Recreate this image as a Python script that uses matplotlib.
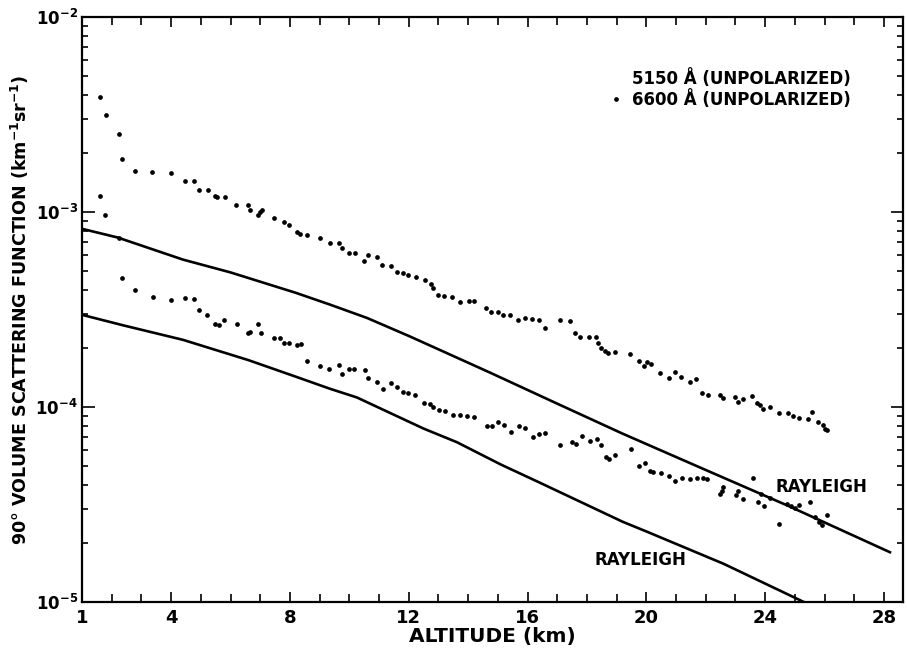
import matplotlib
matplotlib.use("Agg")
import matplotlib.pyplot as plt
from matplotlib.lines import Line2D
from matplotlib.ticker import LogLocator, NullFormatter

plt.rcParams["font.family"] = ["DejaVu Sans"]
plt.rcParams["font.weight"] = "bold"

# 5150 A measurements (upper dots)
alt_5150 = [1.62, 1.82, 2.25, 2.36, 2.78, 3.36, 3.99, 4.48, 4.78, 4.94, 5.24, 5.48, 5.56,
            5.80, 6.20, 6.60, 6.67, 6.92, 7.00, 7.07, 7.46, 7.79, 7.97, 8.24, 8.35, 8.57,
            9.02, 9.34, 9.64, 9.76, 10.00, 10.19, 10.51, 10.64, 10.94, 11.11, 11.39, 11.61,
            11.82, 11.99, 12.24, 12.54, 12.74, 12.83, 13.00, 13.20, 13.47, 13.73, 14.02,
            14.20, 14.60, 14.78, 15.00, 15.19, 15.41, 15.68, 15.91, 16.14, 16.39, 16.58,
            17.09, 17.43, 17.61, 17.77, 18.06, 18.30, 18.37, 18.46, 18.61, 18.71, 18.96,
            19.46, 19.75, 19.92, 20.03, 20.17, 20.47, 20.76, 20.96, 21.18, 21.46, 21.66,
            21.87, 22.09, 22.48, 22.57, 22.99, 23.08, 23.25, 23.55, 23.74, 23.83, 23.92,
            24.16, 24.46, 24.76, 24.95, 25.14, 25.45, 25.58, 25.77, 25.94, 26.02, 26.09]
val_5150 = [3.9e-3, 3.14e-3, 2.5e-3, 1.88e-3, 1.63e-3, 1.60e-3, 1.58e-3, 1.45e-3, 1.45e-3,
            1.30e-3, 1.30e-3, 1.21e-3, 1.20e-3, 1.20e-3, 1.09e-3, 1.09e-3, 1.02e-3, 9.7e-4,
            1.0e-3, 1.02e-3, 9.3e-4, 8.9e-4, 8.6e-4, 7.9e-4, 7.7e-4, 7.66e-4, 7.36e-4,
            6.9e-4, 6.9e-4, 6.56e-4, 6.15e-4, 6.15e-4, 5.64e-4, 6.05e-4, 5.85e-4, 5.33e-4,
            5.27e-4, 4.93e-4, 4.85e-4, 4.77e-4, 4.62e-4, 4.5e-4, 4.29e-4, 4.07e-4, 3.76e-4,
            3.73e-4, 3.67e-4, 3.46e-4, 3.5e-4, 3.49e-4, 3.21e-4, 3.08e-4, 3.08e-4, 2.96e-4,
            2.96e-4, 2.79e-4, 2.85e-4, 2.84e-4, 2.79e-4, 2.53e-4, 2.79e-4, 2.77e-4, 2.39e-4,
            2.28e-4, 2.28e-4, 2.29e-4, 2.12e-4, 2.01e-4, 1.94e-4, 1.90e-4, 1.91e-4, 1.86e-4,
            1.72e-4, 1.63e-4, 1.70e-4, 1.67e-4, 1.49e-4, 1.41e-4, 1.52e-4, 1.43e-4, 1.34e-4,
            1.39e-4, 1.18e-4, 1.15e-4, 1.15e-4, 1.11e-4, 1.12e-4, 1.06e-4, 1.10e-4, 1.14e-4,
            1.05e-4, 1.02e-4, 9.8e-5, 1.0e-4, 9.3e-5, 9.3e-5, 9.0e-5, 8.8e-5, 8.73e-5,
            9.4e-5, 8.4e-5, 8.1e-5, 7.7e-5, 7.66e-5]

# 6600 A measurements (lower dots)
alt_6600 = [1.60, 1.78, 2.24, 2.36, 2.79, 3.39, 3.99, 4.46, 4.77, 4.95, 5.22, 5.47, 5.60,
            5.77, 6.21, 6.58, 6.65, 6.93, 7.04, 7.45, 7.66, 7.79, 7.97, 8.24, 8.37, 8.59,
            9.02, 9.32, 9.64, 9.76, 10.00, 10.16, 10.52, 10.64, 10.92, 11.13, 11.40, 11.60,
            11.82, 11.99, 12.22, 12.52, 12.72, 12.83, 13.01, 13.22, 13.50, 13.73, 13.95,
            14.21, 14.63, 14.80, 15.02, 15.22, 15.43, 15.71, 15.91, 16.18, 16.40, 16.59,
            17.09, 17.51, 17.63, 17.84, 18.10, 18.35, 18.46, 18.64, 18.74, 18.96, 19.49,
            19.76, 19.95, 20.12, 20.22, 20.49, 20.76, 20.97, 21.19, 21.46, 21.72, 21.90,
            22.05, 22.49, 22.54, 22.59, 23.02, 23.10, 23.25, 23.58, 23.77, 23.86, 23.96,
            24.16, 24.46, 24.74, 24.87, 25.01, 25.14, 25.51, 25.68, 25.82, 25.90, 26.07]
val_6600 = [1.21e-3, 9.7e-4, 7.36e-4, 4.57e-4, 3.99e-4, 3.66e-4, 3.54e-4, 3.61e-4, 3.56e-4,
            3.16e-4, 2.96e-4, 2.65e-4, 2.63e-4, 2.80e-4, 2.67e-4, 2.41e-4, 2.42e-4, 2.66e-4,
            2.41e-4, 2.26e-4, 2.27e-4, 2.12e-4, 2.12e-4, 2.09e-4, 2.1e-4, 1.73e-4, 1.63e-4,
            1.56e-4, 1.65e-4, 1.48e-4, 1.57e-4, 1.56e-4, 1.54e-4, 1.41e-4, 1.35e-4, 1.24e-4,
            1.33e-4, 1.26e-4, 1.19e-4, 1.18e-4, 1.15e-4, 1.05e-4, 1.04e-4, 9.97e-5, 9.66e-5,
            9.58e-5, 9.12e-5, 9.12e-5, 9.04e-5, 8.87e-5, 8.0e-5, 8.0e-5, 8.34e-5, 8.05e-5,
            7.46e-5, 8.0e-5, 7.84e-5, 7.0e-5, 7.23e-5, 7.38e-5, 6.37e-5, 6.58e-5, 6.43e-5,
            7.13e-5, 6.7e-5, 6.89e-5, 6.35e-5, 5.52e-5, 5.43e-5, 5.65e-5, 6.12e-5, 4.98e-5,
            5.18e-5, 4.68e-5, 4.65e-5, 4.61e-5, 4.43e-5, 4.19e-5, 4.3e-5, 4.29e-5, 4.3e-5,
            4.34e-5, 4.29e-5, 3.58e-5, 3.72e-5, 3.9e-5, 3.52e-5, 3.7e-5, 3.36e-5, 4.34e-5,
            3.26e-5, 3.58e-5, 3.1e-5, 3.42e-5, 2.52e-5, 3.18e-5, 3.1e-5, 3.05e-5, 3.13e-5,
            3.24e-5, 2.74e-5, 2.58e-5, 2.47e-5, 2.79e-5]

# Rayleigh curves
ray_alt_5150 = [1.0, 2.2, 4.4, 6.0, 8.2, 9.35, 10.6, 12.04, 14.74, 17.0, 19.2, 21.8, 24.8,
                28.2]
ray_val_5150 = [8.2e-4, 7.4e-4, 5.7e-4, 4.9e-4, 3.85e-4, 3.35e-4, 2.86e-4, 2.30e-4, 1.50e-4,
                1.04e-4, 7.3e-5, 4.9e-5, 3.1e-5, 1.8e-5]
ray_alt_6600 = [1.0, 2.4, 4.4, 6.6, 8.2, 9.35, 10.25, 12.5, 13.62, 15.1, 16.4, 19.2, 20.0,
                22.6, 25.3]
ray_val_6600 = [2.97e-4, 2.62e-4, 2.21e-4, 1.74e-4, 1.43e-4, 1.24e-4, 1.12e-4, 7.75e-5,
                6.6e-5, 5.07e-5, 4.1e-5, 2.58e-5, 2.3e-5, 1.57e-5, 1.0e-5]

x_ticks = [1, 4, 8, 12, 16, 20, 24, 28]
y_ticks = [1e-5, 1e-4, 1e-3, 1e-2]
y_tick_labels = [r"$\mathbf{10^{-5}}$", r"$\mathbf{10^{-4}}$",
                 r"$\mathbf{10^{-3}}$", r"$\mathbf{10^{-2}}$"]

fig = plt.figure(figsize=(9.07, 6.59), dpi=100)
ax = fig.add_axes([0.0904, 0.0865, 0.9052, 0.8877])
ax.set_yscale("log")

ax.plot(ray_alt_5150, ray_val_5150, color="black", lw=1.9)
ax.plot(ray_alt_6600, ray_val_6600, color="black", lw=1.9)
ax.plot(alt_5150, val_5150, "o", color="black", ms=3.4, mew=0)
ax.plot(alt_6600, val_6600, "o", color="black", ms=3.4, mew=0)

ax.set_xlim(1, 28.64)
ax.set_ylim(1e-5, 1e-2)

ax.set_xticks(x_ticks)
ax.set_xticks(range(1, 29), minor=True)
ax.set_xticklabels([str(t) for t in x_ticks], fontsize=13, fontweight="bold")
ax.set_yticks(y_ticks)
ax.set_yticklabels(y_tick_labels, fontsize=12)
ax.yaxis.set_minor_locator(LogLocator(base=10, subs=range(2, 10)))
ax.yaxis.set_minor_formatter(NullFormatter())

ax.tick_params(which="both", direction="in", top=True, right=True, width=1.2, colors="black")
ax.tick_params(axis="x", which="major", length=7, pad=5)
ax.tick_params(axis="x", which="minor", length=6)
ax.tick_params(axis="y", which="major", length=9, pad=3)
ax.tick_params(axis="y", which="minor", length=4)
for side in ax.spines.values():
    side.set_linewidth(1.6)

ax.set_xlabel("ALTITUDE (km)", fontsize=14.5, fontweight="bold", labelpad=0)
ax.set_ylabel(r"90° VOLUME SCATTERING FUNCTION (km$^{\mathbf{-1}}$sr$^{\mathbf{-1}}$)",
              fontsize=12.6, fontweight="bold", labelpad=3)

ax.text(24.35, 3.87e-5, "RAYLEIGH", fontsize=12, fontweight="bold", va="center")
ax.text(18.27, 1.64e-5, "RAYLEIGH", fontsize=12, fontweight="bold", va="center")

handles = [Line2D([], [], ls="none"),
           Line2D([], [], ls="none", marker="o", color="black", ms=3.4, mew=0)]
ax.legend(handles, ["5150 Å (UNPOLARIZED)", "6600 Å (UNPOLARIZED)"],
          loc="upper left", bbox_to_anchor=(0.626, 0.937), frameon=False,
          handlelength=0.6, handletextpad=0.65, labelspacing=0.12,
          prop={"size": 12, "weight": "bold"})

fig.savefig("out.png", dpi=100)
